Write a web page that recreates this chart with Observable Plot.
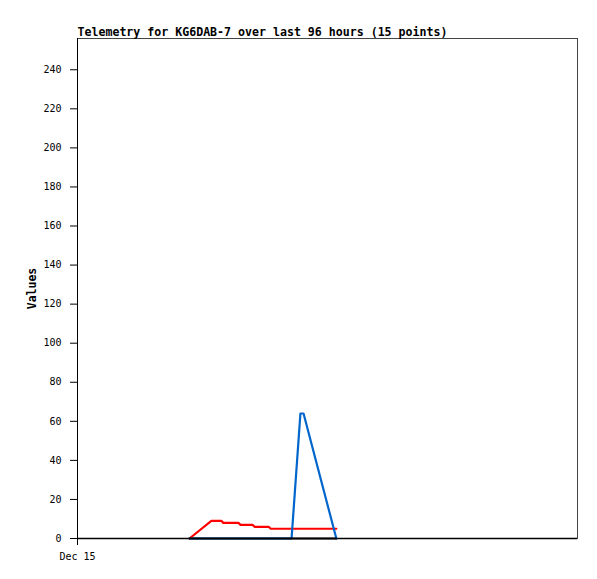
<!DOCTYPE html>
<html><head><meta charset="utf-8">
<script src="https://cdn.jsdelivr.net/npm/d3@7"></script>
<script src="https://cdn.jsdelivr.net/npm/@observablehq/plot@0.6"></script>
<style>body{margin:0;background:#fff}</style>
</head><body><div id="chart"></div>
<script>
const titleText = "Telemetry for KG6DAB-7 over last 96 hours (15 points)";
const yLabel = "Values";
const times = [
  "2023-12-15T21:30Z", "2023-12-16T01:42Z", "2023-12-16T03:39Z", "2023-12-16T04:00Z",
  "2023-12-16T06:54Z", "2023-12-16T07:18Z", "2023-12-16T09:36Z", "2023-12-16T10:00Z",
  "2023-12-16T12:42Z", "2023-12-16T13:06Z", "2023-12-16T17:06Z", "2023-12-16T18:48Z",
  "2023-12-16T19:24Z", "2023-12-17T01:42Z"
];
const redValues   = [0, 9, 9, 8, 8, 7, 7, 6, 6, 5, 5, 5, 5, 5];
const blueValues  = [0, 0, 0, 0, 0, 0, 0, 0, 0, 0, 0, 64, 64, 0];
const blackValues = [0, 0, 0, 0, 0, 0, 0, 0, 0, 0, 0, 0, 0, 0];
const yTicks = [0, 20, 40, 60, 80, 100, 120, 140, 160, 180, 200, 220, 240];
const yMax = 256;
const xStart = "2023-12-15T00:00Z";
const xEnd = "2023-12-19T00:00Z";
const xTicks = ["2023-12-15T00:00Z"];
const xTickLabels = ["Dec 15"];

const T = times.map(t => new Date(t));
const rows = (vals) => T.map((t, i) => ({t, v: vals[i]}));
const x0 = new Date(xStart);

const chart = Plot.plot({
  width: 597, height: 579,
  marginLeft: 77, marginRight: 20, marginTop: 38, marginBottom: 41,
  style: {fontFamily: "'DejaVu Sans Mono', monospace", fontSize: "10px", color: "#000", background: "#fff"},
  x: {type: "utc", domain: [x0, new Date(xEnd)]},
  y: {domain: [0, yMax]},
  marks: [
    Plot.frame({stroke: "#444"}),
    Plot.ruleY([0], {stroke: "#000", strokeWidth: 1.5}),
    Plot.ruleX([x0], {stroke: "#000"}),
    Plot.axisY({ticks: yTicks, tickSize: 7, tickPadding: 9, label: null, stroke: "#000"}),
    Plot.axisX({ticks: xTicks.map(d => new Date(d)), tickFormat: (d, i) => xTickLabels[i], tickSize: 7, tickPadding: 7, label: null}),
    Plot.line(rows(redValues), {x: "t", y: "v", stroke: "#ff0000", strokeWidth: 2.2, curve: "linear"}),
    Plot.line(rows(blueValues), {x: "t", y: "v", stroke: "#0066cc", strokeWidth: 2.2, curve: "linear"}),
    Plot.line(rows(blackValues), {x: "t", y: "v", stroke: "#000", strokeWidth: 2.2}),
    Plot.text([titleText], {frameAnchor: "top-left", lineAnchor: "bottom", textAnchor: "start", dy: -3, fontWeight: "bold", fontSize: 11.6, fill: "#000"}),
    Plot.text([yLabel], {frameAnchor: "left", rotate: -90, textAnchor: "middle", dx: -45, fontWeight: "bold", fontSize: 11.5, fill: "#000"})
  ]
});
document.getElementById("chart").appendChild(chart);
</script>
</body></html>
